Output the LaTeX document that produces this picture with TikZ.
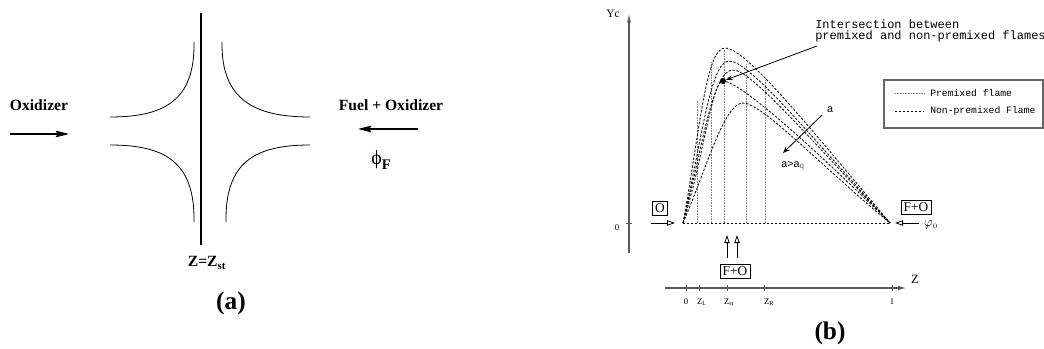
\documentclass[tikz,border=0pt]{standalone}
\usepackage{fontspec}
\setmainfont{Liberation Serif}
\setsansfont{Liberation Sans}
\setmonofont{Liberation Mono}
\usetikzlibrary{arrows.meta,positioning}

\begin{document}
\begin{tikzpicture}[x=0.75pt,y=-0.75pt,
  every node/.style={inner sep=0},
  lbl/.style={font=\bfseries\fontsize{11.7}{14}\selectfont},
  subcap/.style={font=\bfseries\fontsize{19}{22}\selectfont},
  flow/.style={line width=1pt,-{Stealth[length=10pt,width=5pt,inset=1.5pt]}},
  hyp/.style={line width=0.6pt},
  axisline/.style={draw=black!65,line width=0.8pt},
  tickline/.style={draw=black!65,line width=0.6pt},
  nonpre/.style={line width=0.6pt,dash pattern=on 1.8pt off 1.2pt},
  premix/.style={draw=black!50,line width=0.35pt,dash pattern=on 0.5pt off 0.7pt},
  box/.style={draw,line width=0.5pt,inner sep=2pt,font=\fontsize{10}{11}\selectfont},
  inlet/.style={line width=0.6pt,-{Triangle[open,length=6pt,width=4pt]}},
  ticklbl/.style={font=\fontsize{6.5}{7}\selectfont},
  mono/.style={font=\ttfamily\fontsize{9}{8.25}\selectfont},
  sans/.style={font=\sffamily\fontsize{8}{9}\selectfont}]
\useasboundingbox (0,0) rectangle (1044,349);

% (a) counterflow
\draw[line width=1.5pt] (201,13) coordinate (st top) -- (201,245) coordinate (st bot);
\draw[hyp] (194,42) .. controls (195,100) and (165,117) .. (110,117);
\draw[hyp] (222,42) .. controls (221,100) and (255,117) .. (310,117);
\draw[hyp] (110,145) .. controls (165,145) and (195,162) .. (194,222);
\draw[hyp] (310,145) .. controls (255,145) and (225,162) .. (226,222);
\node[lbl] (zst) at (207,263) {Z=Z\textsubscript{st}};
\node[lbl] (ox) at (39,105) {Oxidizer};
\coordinate (ox a) at (10,134);
\coordinate (ox b) at (69,134);
\draw[flow] (ox a) -- (ox b);
\node[lbl] (fuel) at (391,105) {Fuel + Oxidizer};
\coordinate (fuel a) at (418,129);
\coordinate (fuel b) at (358,129);
\draw[flow] (fuel a) -- (fuel b);
\node (phif) at (381,160) {{\fontsize{15}{16}\selectfont\char"03D5}\raisebox{-4pt}{\bfseries\fontsize{11}{12}\selectfont F}};
\node[subcap] (capa) at (231,303) {(a)};

% (b) axes
\coordinate (y0) at (629,253);
\coordinate (y1) at (629,15);
\draw[axisline,-{Stealth[length=6pt,width=3pt]}] (y0) -- (y1);
\node[font=\fontsize{8.6}{10}\selectfont] (yc) at (613,14) {Yc};
\draw[tickline] (626,223) -- (632,223);
\node[ticklbl] (yzero) at (617,228) {0};
\coordinate (z0) at (665,288);
\coordinate (z1) at (906,288);
\draw[axisline,-{Latex[length=6pt,width=3.5pt]}] (z0) -- (z1);
\node[font=\fontsize{9.5}{10}\selectfont] (zlab) at (915,279) {Z};
\foreach \x/\t/\p in {686/0/686,699/Z\textsubscript{L}/702,727/Z\textsubscript{st}/729,764/Z\textsubscript{R}/769,892/1/892}
  \draw[tickline] (\x,285) -- (\x,291) (\p,302) node[ticklbl] {\t};

% (b) flames
\coordinate (zl) at (683,223);
\coordinate (zr) at (890,223);
\foreach \x/\h in {697/100,711/62,724/49,746/63,765/78}
  \draw[premix] (\x,223) -- (\x,\h);
\draw[nonpre] (zl) -- (zr);
\draw[nonpre] (zl) .. controls (700,130) and (706,48) .. (725,48) .. controls (746,48) and (810,128) .. (zr);
\draw[nonpre] (zl) .. controls (701,145) and (710,61) .. (729,61) .. controls (750,61) and (812,138) .. (zr);
\draw[nonpre] (zl) .. controls (702,150) and (712,70) .. (733,70) .. controls (752,70) and (814,144) .. (zr);
\draw[nonpre] (zl) .. controls (703,160) and (712,81) .. (723,81) .. controls (740,81) and (816,150) .. (zr);
\draw[nonpre] (zl) .. controls (706,170) and (724,103) .. (743,103) .. controls (762,103) and (820,165) .. (zr);

% (b) inlets
\node[box] (bo) at (660,208) {O};
\coordinate (o a) at (651,223);
\coordinate (o b) at (675,223);
\draw[inlet] (o a) -- (o b);
\node[box] (bfo) at (916,207) {F+O};
\coordinate (fo a) at (919,223);
\coordinate (fo b) at (895,223);
\draw[inlet] (fo a) -- (fo b);
\node (phio) at (931,225) {$\varphi_{\scriptscriptstyle 0}$};
\node[box] (bfob) at (735,271) {F+O};
\coordinate (u1 a) at (727,258);
\coordinate (u1 b) at (727,235);
\coordinate (u2 a) at (737,258);
\coordinate (u2 b) at (737,235);
\draw[inlet] (u1 a) -- (u1 b);
\draw[inlet] (u2 a) -- (u2 b);

% (b) annotations
\node[circle,fill,inner sep=1.6pt] (dot) at (723,81) {};
\node[mono,align=left,anchor=north west] (inter) at (815,20) {Intersection between\\premixed and non-premixed flames};
\coordinate (inter a) at (817,46);
\draw[line width=0.6pt,-{Stealth[length=5pt,width=4pt]}] (inter a) -- (dot);
\node[sans] (a) at (830,110) {a};
\coordinate (a a) at (822,115);
\coordinate (a b) at (783,153);
\draw[line width=0.6pt,-{Stealth[length=5pt,width=4pt]}] (a a) -- (a b);
\node[sans] (aq) at (793,166) {a>a\textsubscript{\color{black!60}q}};

% (b) legend
\draw[draw=black!60,line width=1pt] (884,80) rectangle (1043,128);
\draw[premix] (895,93) -- (924,93);
\node[mono,font=\ttfamily\fontsize{7.3}{8}\selectfont,anchor=west] (lpre) at (930,93) {Premixed flame};
\draw[nonpre,line width=0.4pt] (895,111) -- (924,111);
\node[mono,font=\ttfamily\fontsize{7.3}{8}\selectfont,anchor=west] (lnon) at (930,111) {Non-premixed Flame};

\node[subcap] (capb) at (830,333) {(b)};
\end{tikzpicture}
\end{document}
